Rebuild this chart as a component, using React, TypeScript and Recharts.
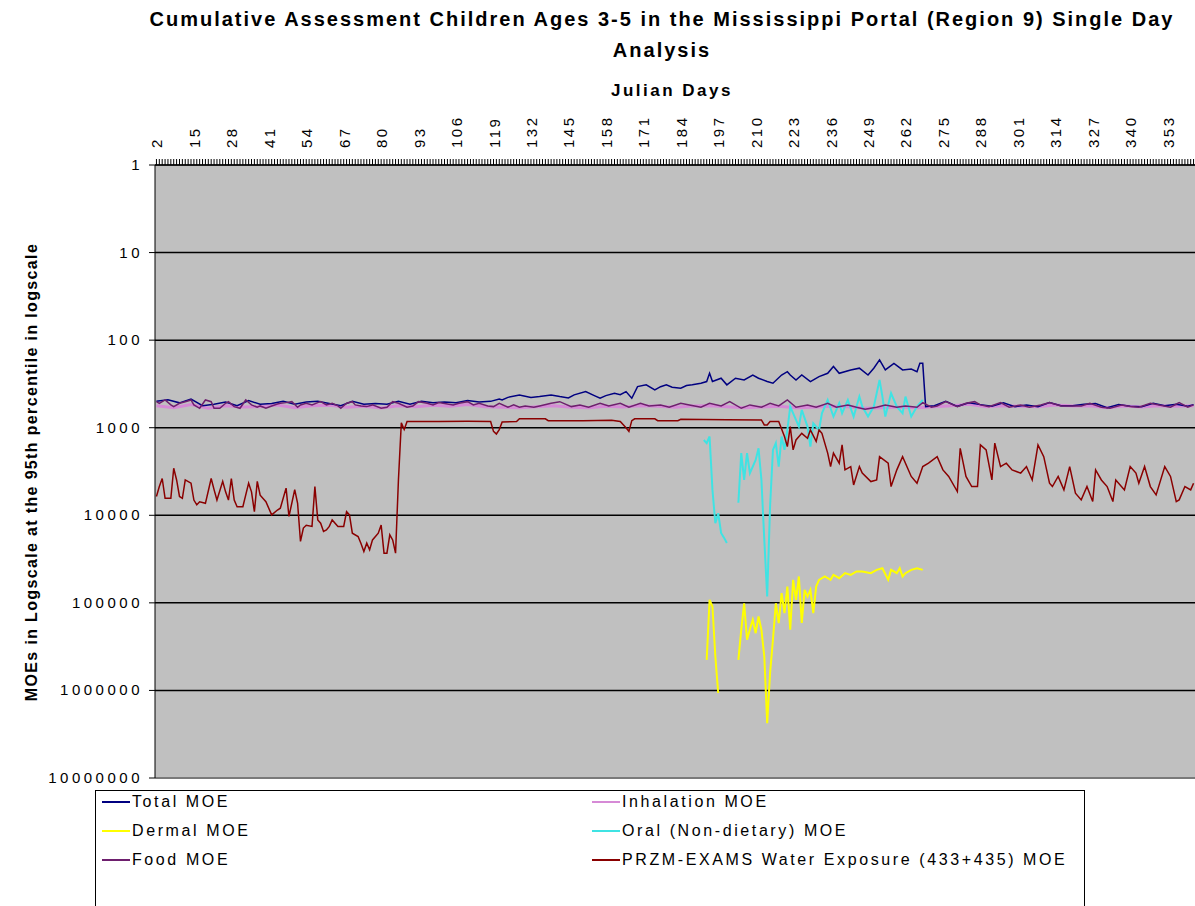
import React from "react";
import { LineChart, Line, XAxis, YAxis, CartesianGrid, ReferenceLine } from "recharts";

type Pt = [number, number | null];

// top axis labels (every 13th Julian day) and the log decades
const dayLabels = [2, 15, 28, 41, 54, 67, 80, 93, 106, 119, 132, 145, 158, 171, 184, 197, 210, 223, 236, 249, 262, 275, 288, 301, 314, 327, 340, 353];
const dayTicks = Array.from({ length: 361 }, (_, i) => i + 2);
const moeTicks = [1, 10, 100, 1000, 10000, 100000, 1000000, 10000000];

const totalMoe: Pt[] = [
  [2, 500], [6, 480], [10, 520], [14, 470], [18, 560], [22, 540], [26, 510], [30, 560], [34, 490], [38, 540],
  [42, 530], [46, 500], [50, 540], [54, 510], [58, 500], [62, 530], [66, 560], [70, 500], [74, 540], [78, 530],
  [82, 540], [86, 500], [90, 540], [94, 500], [98, 520], [102, 510], [106, 520], [110, 490], [114, 510], [118, 500],
  [121, 470], [122, 482], [124, 450], [128, 422], [132, 451], [135, 441], [139, 422], [142, 441], [145, 458], [147, 422],
  [151, 387], [154, 430], [156, 461], [158, 430], [161, 404], [163, 420], [165, 387], [167, 461], [169, 339], [172, 324],
  [175, 370], [177, 340], [179, 324], [181, 345], [184, 354], [186, 330], [188, 324], [191, 310], [193, 297], [194, 239],
  [195, 297], [198, 272], [200, 324], [203, 272], [206, 285], [209, 250], [211, 272], [214, 297], [216, 310], [219, 250],
  [221, 229], [222, 250], [224, 285], [226, 250], [229, 297], [232, 261], [235, 239], [237, 200], [239, 239], [243, 219],
  [246, 209], [249, 250], [251, 209], [253, 168], [255, 219], [258, 184], [261, 219], [264, 214], [266, 229], [267, 184],
  [268, 184], [269, 574], [272, 560], [276, 500], [280, 570], [284, 520], [288, 545], [292, 570], [296, 520], [300, 575],
  [304, 550], [308, 575], [312, 515], [316, 560], [320, 560], [324, 540], [328, 530], [332, 590], [336, 545], [340, 570],
  [344, 575], [348, 525], [352, 560], [356, 540], [360, 570], [362, 545],
];

const inhalationMoe: Pt[] = [
  [2, 560], [8, 590], [14, 545], [20, 600], [26, 560], [32, 580], [38, 575], [44, 550], [50, 590], [56, 560],
  [62, 555], [68, 585], [74, 570], [80, 595], [86, 560], [92, 575], [98, 555], [104, 570], [110, 545], [116, 575],
  [122, 585], [128, 590], [134, 575], [140, 560], [146, 585], [152, 590], [158, 570], [164, 580], [170, 560], [176, 570],
  [182, 585], [188, 565], [194, 560], [200, 575], [206, 590], [212, 580], [218, 570], [224, 590], [230, 585], [236, 570],
  [242, 575], [248, 600], [254, 590], [260, 580], [266, 590], [272, 575], [278, 560], [284, 540], [290, 575], [296, 560],
  [302, 570], [308, 575], [314, 550], [320, 565], [326, 560], [332, 590], [338, 565], [344, 580], [350, 560], [356, 570],
  [362, 560],
];

const dermalMoe: Pt[] = [
  [193, 448000], [194, 92500], [195, 110000], [196, 410000], [197, 1070000], [198, null],
  [204, 448000], [205, 203000], [206, 101000], [207, 264000], [208, 200000], [209, 156000], [210, 222000], [211, 143000],
  [212, 203000], [213, 410000], [214, 2360000], [215, 635000], [216, 264000], [217, 101000], [218, 170000], [219, 77600],
  [220, 131000], [221, 65200], [222, 203000], [223, 54600], [224, 92500], [225, 50000], [226, 170000], [227, 71100],
  [228, 84700], [229, 71100], [230, 131000], [231, 65200], [232, 54600], [234, 50000], [236, 54600], [237, 47900],
  [239, 52300], [241, 45800], [243, 47900], [245, 43800], [247, 43800], [250, 45800], [252, 42000], [254, 40200],
  [256, 54600], [257, 42000], [259, 45800], [260, 40200], [261, 50000], [262, 45800], [264, 42000], [266, 40200],
  [268, 42000],
];

const oralMoe: Pt[] = [
  [192, 1380], [193, 1500], [194, 1260], [195, 5130], [196, 12300], [197, 9460], [198, 15900], [199, 18000], [200, 20700],
  [201, null],
  [204, 7200], [205, 1950], [206, 3950], [207, 1950], [208, 3300], [210, 2330], [211, 1720], [212, 3950], [213, 19100],
  [214, 84700], [215, 7950], [216, 1790], [217, 1500], [218, 2780], [219, 1260], [220, 1790], [221, 1060], [222, 574],
  [224, 815], [225, 970], [226, 626], [228, 970], [229, 1640], [230, 890], [232, 1060], [233, 684], [235, 482],
  [237, 746], [239, 526], [240, 684], [242, 482], [244, 746], [246, 441], [247, 574], [249, 746], [251, 574],
  [253, 285], [254, 441], [255, 746], [257, 404], [259, 574], [261, 684], [262, 441], [264, 746], [266, 574], [268, 482],
];

const foodMoe: Pt[] = [
  [2, 504], [3, 526], [5, 482], [7, 549], [8, 574], [10, 526], [12, 504], [14, 482], [15, 549], [17, 600],
  [19, 482], [21, 504], [22, 600], [24, 600], [26, 526], [27, 504], [29, 574], [31, 600], [33, 482], [35, 549],
  [37, 584], [38, 564], [40, 600], [42, 564], [44, 535], [45, 526], [47, 517], [49, 504], [51, 584], [52, 549],
  [54, 526], [56, 549], [58, 517], [59, 504], [61, 549], [63, 526], [65, 564], [66, 600], [68, 526], [70, 504],
  [71, 549], [73, 564], [75, 574], [77, 549], [80, 600], [82, 584], [84, 504], [86, 526], [89, 584], [91, 564],
  [93, 504], [96, 526], [98, 549], [100, 517], [103, 535], [105, 549], [107, 526], [110, 504], [112, 549], [114, 526],
  [117, 564], [119, 574], [121, 526], [124, 584], [126, 549], [128, 584], [130, 564], [133, 584], [135, 564], [139, 526],
  [142, 504], [146, 574], [149, 549], [152, 584], [156, 526], [159, 564], [163, 526], [166, 584], [170, 526], [173, 564],
  [177, 549], [180, 584], [184, 526], [187, 549], [191, 584], [194, 526], [198, 564], [201, 504], [205, 600], [208, 549],
  [212, 584], [215, 526], [218, 564], [221, 482], [224, 584], [228, 549], [231, 584], [235, 526], [238, 584], [242, 549],
  [245, 584], [248, 616], [252, 584], [255, 549], [259, 584], [262, 564], [266, 584], [268, 517], [271, 584], [273, 564],
  [276, 504], [280, 574], [283, 526], [286, 504], [288, 549], [291, 574], [295, 517], [298, 584], [302, 549], [305, 584],
  [309, 549], [312, 517], [316, 564], [319, 564], [323, 564], [326, 526], [330, 584], [333, 600], [337, 549], [340, 574],
  [343, 584], [347, 526], [350, 549], [354, 584], [357, 517], [360, 584], [362, 549],
];

const przmMoe: Pt[] = [
  [2, 6100], [3, 4700], [4, 3800], [5, 6400], [7, 6400], [8, 2900], [9, 3950], [10, 6100], [11, 6400], [12, 3950],
  [14, 4300], [15, 6700], [16, 7600], [17, 7000], [19, 7300], [21, 3800], [22, 5100], [23, 6700], [25, 4100], [26, 5400],
  [27, 6700], [28, 3800], [29, 6700], [30, 8000], [32, 8000], [34, 4300], [35, 5400], [36, 9100], [37, 4100], [38, 5900],
  [40, 7000], [42, 9900], [44, 8700], [45, 8300], [47, 4900], [48, 10300], [50, 5100], [51, 7300], [52, 19900], [53, 14000],
  [54, 13000], [56, 13400], [57, 4700], [58, 11300], [59, 12300], [60, 15300], [61, 14700], [62, 13400], [63, 11300], [65, 13400],
  [67, 13400], [68, 9100], [69, 9900], [70, 16000], [72, 17500], [73, 21000], [74, 25900], [75, 20800], [76, 24800], [77, 19100],
  [79, 16000], [80, 12900], [81, 27100], [82, 27100], [83, 16700], [84, 19100], [85, 27100], [86, 3950], [87, 880], [88, 1050],
  [89, 850], [100, 850], [110, 845], [118, 850], [119, 1100], [120, 1180], [121, 1050], [122, 860], [127, 850], [128, 790],
  [137, 790], [138, 830], [150, 830], [160, 820], [163, 850], [165, 1000], [166, 1100], [167, 830], [168, 790], [175, 790],
  [176, 830], [183, 830], [184, 800], [200, 810], [212, 815], [213, 930], [214, 930], [215, 850], [218, 850], [220, 1260],
  [221, 1640], [222, 970], [223, 1790], [224, 1380], [226, 1160], [228, 1320], [229, 1060], [231, 1430], [232, 1060], [233, 1160],
  [235, 1950], [236, 2780], [237, 1950], [239, 2540], [240, 1570], [241, 3030], [243, 2780], [244, 4500], [246, 2780], [247, 3300],
  [250, 4120], [252, 3950], [253, 2140], [256, 2540], [257, 4700], [259, 3030], [261, 2140], [264, 3600], [266, 4300], [268, 2780],
  [270, 2540], [273, 2140], [275, 3030], [277, 3600], [280, 5360], [281, 1720], [283, 3600], [285, 4700], [287, 4700], [288, 1570],
  [290, 1790], [292, 3950], [293, 1500], [295, 2780], [297, 2540], [299, 3030], [302, 3300], [304, 2780], [306, 3950], [308, 1570],
  [310, 2140], [312, 4300], [313, 4700], [315, 3600], [317, 5130], [319, 2780], [321, 5600], [323, 6670], [325, 4700], [327, 6970],
  [328, 3030], [330, 3950], [332, 4700], [334, 6970], [335, 3950], [338, 5130], [340, 2780], [342, 3300], [343, 4300], [345, 2780],
  [347, 4700], [349, 5850], [352, 2780], [354, 3600], [356, 6970], [357, 6670], [359, 4700], [361, 5130], [362, 4300],
];

const rows = (pts: Pt[]) => pts.map(([day, v]) => ({ day, v }));

// draw order (bottom to top)
const series = [
  { key: "inhal", name: "Inhalation MOE", color: "#d68ad6", width: 3, data: inhalationMoe },
  { key: "total", name: "Total MOE", color: "#000080", width: 1.5, data: totalMoe },
  { key: "dermal", name: "Dermal MOE", color: "#ffff00", width: 2, data: dermalMoe },
  { key: "oral", name: "Oral (Non-dietary) MOE", color: "#3fe3e3", width: 2, data: oralMoe },
  { key: "food", name: "Food MOE", color: "#6e1f6e", width: 1.5, data: foodMoe },
  { key: "przm", name: "PRZM-EXAMS Water Exposure (433+435) MOE", color: "#8a0000", width: 1.5, data: przmMoe },
];
const legendOrder = ["total", "inhal", "dermal", "oral", "food", "przm"];

const FONT = '"Liberation Sans", Arial, sans-serif';

const DayTick = (props: any) => {
  const { x, y, payload } = props;
  if (!dayLabels.includes(payload.value)) return <g />;
  return (
    <text
      transform={`translate(${x + 6},${y - 9}) rotate(-90)`}
      textAnchor="start"
      fontSize={15}
      letterSpacing={2.5}
      fontFamily={FONT}
      fill="#000"
    >
      {payload.value}
    </text>
  );
};

const MoeTick = (props: any) => {
  const { x, y, payload } = props;
  return (
    <text x={x - 4} y={y} dy={5} textAnchor="end" fontSize={15} letterSpacing={3.5} fontFamily={FONT} fill="#000">
      {payload.value}
    </text>
  );
};

export default function App() {
  return (
    <div style={{ position: "absolute", left: 0, top: 0, width: 1195, height: 906, background: "#fff", overflow: "hidden", fontFamily: FONT }}>
      <div style={{ position: "absolute", left: 662, top: 4, transform: "translateX(-50%)", whiteSpace: "nowrap", textAlign: "center", fontWeight: "bold", fontSize: 20, letterSpacing: 2, lineHeight: "31px" }}>
        Cumulative Assessment Children Ages 3-5 in the Mississippi Portal (Region 9) Single Day
        <br />
        Analysis
      </div>
      <div style={{ position: "absolute", left: 672, top: 81, transform: "translateX(-50%)", whiteSpace: "nowrap", fontWeight: "bold", fontSize: 17, letterSpacing: 2.5 }}>
        Julian Days
      </div>
      <div style={{ position: "absolute", left: 32, top: 472, transform: "translate(-50%,-50%) rotate(-90deg)", whiteSpace: "nowrap", fontWeight: "bold", fontSize: 16, letterSpacing: 1.35 }}>
        MOEs in Logscale at the 95th percentile in logscale
      </div>

      <LineChart width={1195} height={906} margin={{ top: 100, right: 0, bottom: 128, left: 0 }}>
        <CartesianGrid vertical={false} stroke="#000" strokeWidth={1.5} fill="#c0c0c0" />
        <XAxis
          dataKey="day"
          type="number"
          orientation="top"
          domain={[1.5, 362.5]}
          ticks={dayTicks}
          interval={0}
          height={65}
          tickSize={6}
          tick={DayTick}
          stroke="#000"
          allowDataOverflow
        />
        <YAxis
          scale="log"
          domain={[1, 10000000]}
          reversed
          ticks={moeTicks}
          interval={0}
          width={155}
          tickSize={6}
          tick={MoeTick}
          stroke="#000"
          allowDataOverflow
        />
        <ReferenceLine y={10000000} stroke="#7a7a7a" strokeWidth={2} />
        {series.map((s) => (
          <Line
            key={s.key}
            data={rows(s.data)}
            dataKey="v"
            name={s.name}
            type="linear"
            stroke={s.color}
            strokeWidth={s.width}
            dot={false}
            activeDot={false}
            connectNulls={false}
            isAnimationActive={false}
          />
        ))}
      </LineChart>

      <div style={{ position: "absolute", left: 95, top: 790, width: 990, height: 130, border: "1px solid #000", boxSizing: "border-box" }}>
        {legendOrder.map((k, i) => {
          const s = series.find((d) => d.key === k)!;
          const col = i % 2;
          const row = Math.floor(i / 2);
          return (
            <div key={k} style={{ position: "absolute", left: col === 0 ? 6 : 496, top: 1 + row * 29, height: 20, display: "flex", alignItems: "center", whiteSpace: "nowrap" }}>
              <span style={{ display: "inline-block", width: 28, height: 2, background: s.color, marginRight: 2 }} />
              <span style={{ fontSize: 16, letterSpacing: 2.6 }}>{s.name}</span>
            </div>
          );
        })}
      </div>
    </div>
  );
}
